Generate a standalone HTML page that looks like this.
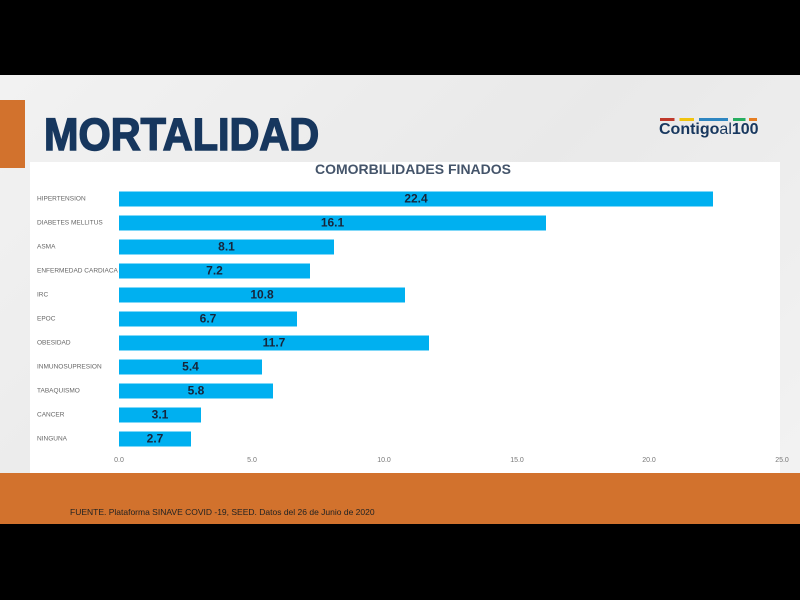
<!DOCTYPE html>
<html><head><style>
body{margin:0;width:800px;height:600px;background:#000;position:relative;overflow:hidden;font-family:"Liberation Sans",sans-serif}
#slide{position:absolute;left:0;top:75px;width:800px;height:449px;background:linear-gradient(135deg,#f2f2f2,#e9e9e9 50%,#f3f3f3)}
#orange{position:absolute;left:0;top:473px;width:800px;height:51px;background:#d2722d}
#strip{position:absolute;left:0;top:100px;width:25px;height:68px;background:#d2722d}
#panel{position:absolute;left:30px;top:162px;width:750px;height:311px;background:#fff}
h1{position:absolute;left:44px;top:109px;margin:0;font-size:45px;font-weight:bold;color:#17375e;font-family:"Liberation Sans",sans-serif;transform:scaleX(0.92);transform-origin:left;-webkit-text-stroke:1.5px #17375e}
.lab{position:absolute;left:37px;font-size:6.5px;color:#666;transform:translateY(-50%)}
.bar{position:absolute;left:119px;height:15px;background:#00b0f0;transform:translateY(-50%);font-weight:bold;font-size:12px;color:#17253a;text-align:center;line-height:15px}
.tk{position:absolute;top:457px;font-size:7px;color:#777;transform:translateX(-50%)}
</style></head><body>
<div id="slide"></div>
<div id="strip"></div>
<h1>MORTALIDAD</h1>
<div style="position:absolute;left:660px;top:118px;width:97px;height:3px;background:linear-gradient(90deg,#c0392b 0 15%,transparent 15% 20%,#f1c40f 20% 35%,transparent 35% 40%,#2e86c1 40% 70%,transparent 70% 75%,#27ae60 75% 88%,transparent 88% 92%,#e67e22 92%)"></div>
<div style="position:absolute;left:659px;top:121px;font-size:16px;font-weight:bold;color:#17375e">Contigo<span style="font-weight:normal">al</span>100</div>
<div id="panel"></div>
<div style="position:absolute;left:0;width:826px;top:161px;text-align:center;font-size:14px;font-weight:bold;color:#44546a">COMORBILIDADES FINADOS</div>
<div class="lab" style="top:199px">HIPERTENSION</div><div class="bar" style="top:199px;width:594px">22.4</div>
<div class="lab" style="top:223px">DIABETES MELLITUS</div><div class="bar" style="top:223px;width:427px">16.1</div>
<div class="lab" style="top:247px">ASMA</div><div class="bar" style="top:247px;width:215px">8.1</div>
<div class="lab" style="top:271px">ENFERMEDAD CARDIACA</div><div class="bar" style="top:271px;width:191px">7.2</div>
<div class="lab" style="top:295px">IRC</div><div class="bar" style="top:295px;width:286px">10.8</div>
<div class="lab" style="top:319px">EPOC</div><div class="bar" style="top:319px;width:178px">6.7</div>
<div class="lab" style="top:343px">OBESIDAD</div><div class="bar" style="top:343px;width:310px">11.7</div>
<div class="lab" style="top:367px">INMUNOSUPRESION</div><div class="bar" style="top:367px;width:143px">5.4</div>
<div class="lab" style="top:391px">TABAQUISMO</div><div class="bar" style="top:391px;width:154px">5.8</div>
<div class="lab" style="top:415px">CANCER</div><div class="bar" style="top:415px;width:82px">3.1</div>
<div class="lab" style="top:439px">NINGUNA</div><div class="bar" style="top:439px;width:72px">2.7</div>
<div class="tk" style="left:119px">0.0</div><div class="tk" style="left:252px">5.0</div><div class="tk" style="left:384px">10.0</div><div class="tk" style="left:517px">15.0</div><div class="tk" style="left:649px">20.0</div><div class="tk" style="left:782px">25.0</div>
<div id="orange"></div>
<div style="position:absolute;left:70px;top:507px;font-size:8.5px;color:#222">FUENTE. Plataforma SINAVE COVID -19, SEED. Datos del 26 de Junio de 2020</div>
</body></html>
